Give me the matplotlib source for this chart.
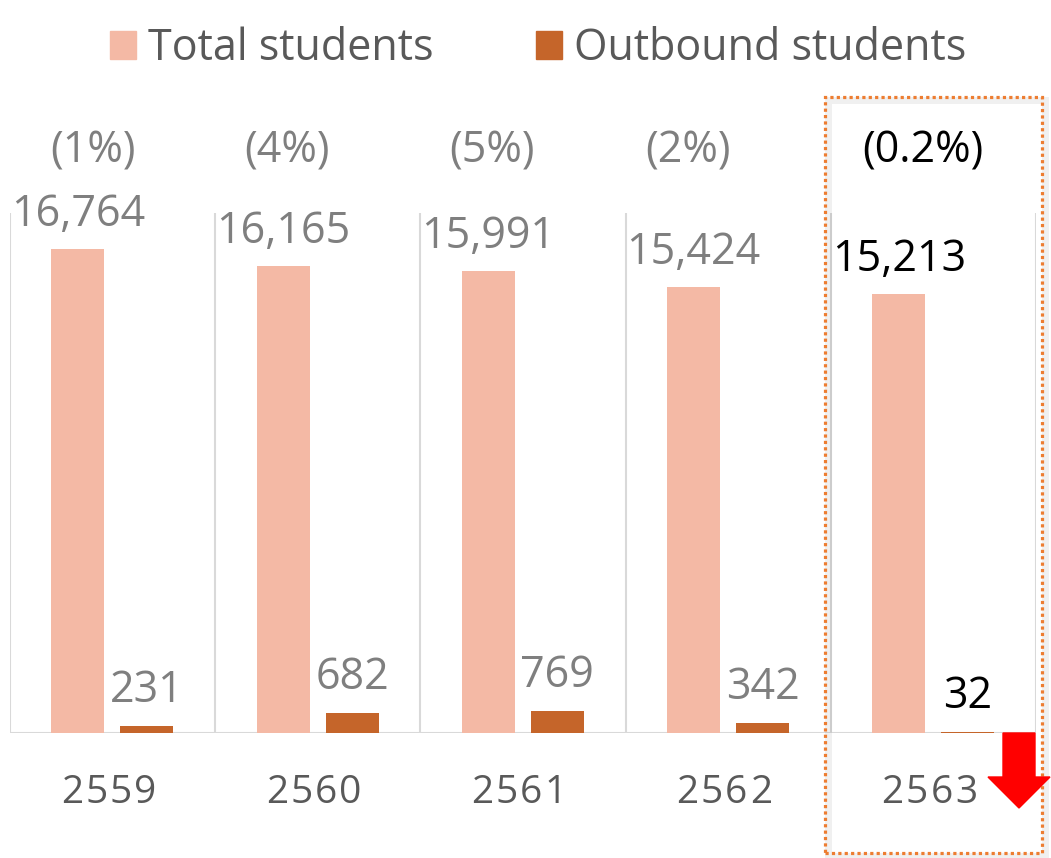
import matplotlib
matplotlib.use('Agg')
from matplotlib import pyplot as plt
from matplotlib.patches import Rectangle, Polygon, Patch
import matplotlib.transforms as mtransforms
import numpy as np

plt.rcParams['font.family'] = ['Open Sans', 'DejaVu Sans']

years    = ['2559', '2560', '2561', '2562', '2563']
total    = [16764, 16165, 15991, 15424, 15213]
outbound = [231, 682, 769, 342, 32]
pct      = ['(1%)', '(4%)', '(5%)', '(2%)', '(0.2%)']

W, H = 1051, 858
c_total = '#F4B9A5'
c_out   = '#C5652A'
grey    = '#7F7F7F'
dark    = '#595959'
grid    = '#D9D9D9'
fs      = 31

fig = plt.figure(figsize=(W/100, H/100), dpi=100)
ax = fig.add_axes([10/W, (H-733)/H, (1036-10)/W, (733-213)/H])

x = np.arange(len(years))
bw = 0.258
ax.bar(x - 0.169, total, bw, color=c_total, zorder=2)
ax.bar(x + 0.167, outbound, bw, color=c_out, zorder=2)

ax.set_xlim(-0.5, len(years) - 0.5)
ax.set_ylim(0, 18000)
for s in ax.spines.values():
	s.set_visible(False)
ax.set_xticks([])
ax.set_yticks([])

# category separators + baseline
for b in np.arange(-0.5, len(years), 1.0):
	ax.axvline(b, color=grid, lw=1.5, zorder=1)
ax.axhline(0, color=grid, lw=1.5, zorder=1)

last = len(years) - 1
for i in range(len(years)):
	col = 'black' if i == last else grey
	ax.annotate('{:,}'.format(total[i]), (x[i] - 0.169, total[i]), xytext=(0, 23),
				textcoords='offset pixels', ha='center', va='baseline', fontsize=fs, color=col)
	ax.annotate('{:,}'.format(outbound[i]), (x[i] + 0.167, outbound[i]), xytext=(0, 24),
				textcoords='offset pixels', ha='center', va='baseline', fontsize=fs, color=col)

# percent labels sit above the plot area
trans = mtransforms.blended_transform_factory(ax.transData, ax.transAxes)
pct_dx = [-0.095, -0.15, -0.15, -0.195, -0.05]
for i in range(len(years)):
	col = 'black' if i == last else grey
	ax.text(x[i] + pct_dx[i], (733-162)/520, pct[i], transform=trans, ha='center',
			va='baseline', fontsize=fs, color=col)

# category labels, drawn char by char for the wide letter spacing
pitch = 24.5 / 205.2
for i in range(len(years)):
	s = years[i]
	for k, ch in enumerate(s):
		cx = x[i] - 0.02 + (k - (len(s) - 1) / 2) * pitch
		ax.text(cx, (733-803)/520, ch, transform=trans, ha='center',
				va='baseline', fontsize=28, color=dark)

handles = [Patch(color=c_total), Patch(color=c_out)]
fig.legend(handles, ['Total students', 'Outbound students'], loc='upper center',
		   bbox_to_anchor=(0.512, 1.014), ncol=2, frameon=False, fontsize=fs,
		   handlelength=0.6, handleheight=0.6, handletextpad=0.28,
		   columnspacing=2.4, labelcolor=dark)

# highlight box around last year, with a faint shadow
bx, by, bwid, bht = 825/W, (H-853)/H, (1042-825)/W, (853-97)/H
shadow = Rectangle((bx + 3/W, by - 3/H), bwid, bht, transform=fig.transFigure,
				   fill=False, edgecolor='#000000', alpha=0.06, lw=5)
fig.add_artist(shadow)
box = Rectangle((bx, by), bwid, bht, transform=fig.transFigure,
				fill=False, edgecolor='#ED7D31', lw=2.3, linestyle=(0, (1, 1)))
fig.add_artist(box)

# red down arrow
pts = [(1003, 733), (1035, 733), (1035, 777), (1050, 777), (1019, 808), (988, 777), (1003, 777)]
arrow = Polygon([(px/W, (H-py)/H) for px, py in pts], closed=True, transform=fig.transFigure,
				color='#FF0000')
fig.add_artist(arrow)

fig.savefig('out.png', dpi=100)
